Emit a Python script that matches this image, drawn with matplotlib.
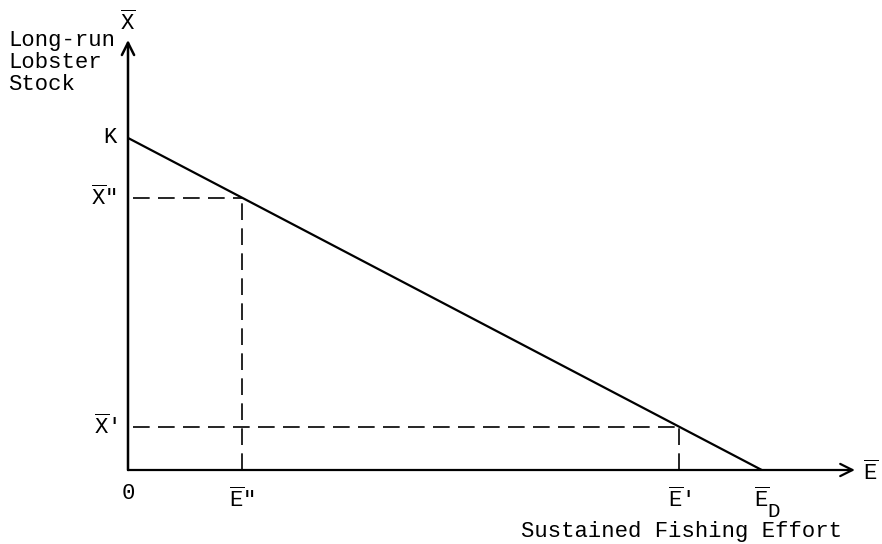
import matplotlib.pyplot as plt

# diagram values (arbitrary units)
K = 100.0          # stock with no effort
E_D = 100.0        # effort that drives stock to zero
E_pts = [18.0, 87.0]                     # E'', E'
X_pts = [K * (1 - e / E_D) for e in E_pts]   # X'', X' on the line
E_names = [r'$\overline{\mathrm{E}}$"', r"$\overline{\mathrm{E}}$'"]
X_names = [r'$\overline{\mathrm{X}}$"', r"$\overline{\mathrm{X}}$'"]

plt.rcParams['font.family'] = ['Liberation Mono', 'DejaVu Sans']
plt.rcParams['mathtext.fontset'] = 'custom'
plt.rcParams['mathtext.rm'] = 'Liberation Mono'
plt.rcParams['mathtext.it'] = 'Liberation Mono'

fig = plt.figure(figsize=(8.82, 5.44), dpi=100)
W, H = 882, 544
# axes from origin pixel (128,470) to (860,35)
ax = fig.add_axes([128 / W, (H - 470) / H, (860 - 128) / W, (470 - 35) / H])
ax.set_xlim(0, 115.5)
ax.set_ylim(0, 131)
ax.axis('off')

fs = 16
# axes with open arrow heads
ax.annotate('', xy=(114.7, 0), xytext=(0, 0),
            arrowprops=dict(arrowstyle='->', lw=1.6, color='black',
                            mutation_scale=22, shrinkA=0, shrinkB=0))
ax.annotate('', xy=(0, 129.5), xytext=(0, 0),
            arrowprops=dict(arrowstyle='->', lw=1.8, color='black',
                            mutation_scale=22, shrinkA=0, shrinkB=0))

# long-run stock vs effort
ax.plot([0, E_D], [K, 0], color='black', lw=1.6, solid_capstyle='butt')

# dashed guides
for e, x in zip(E_pts, X_pts):
    ax.plot([0.8, e], [x, x], color='black', lw=1.2, dashes=(10, 5))
    ax.plot([e, e], [0, x], color='black', lw=1.2, dashes=(10, 5))

# labels
ax.text(-1.8, K, 'K', ha='right', va='center', fontsize=fs)
for x, name in zip(X_pts, X_names):
    ax.text(-1.8, x, name, ha='right', va='center', fontsize=fs)
for e, name in zip(E_pts, E_names):
    ax.text(e, -5.5, name, ha='center', va='top', fontsize=fs)
ax.text(E_D, -5.5, r'$\overline{\mathrm{E}}$', ha='center', va='top', fontsize=fs)
ax.annotate('D', xy=(E_D, -5.5), xytext=(4, -10), textcoords='offset points',
            ha='left', va='top', fontsize=fs - 1, annotation_clip=False)
ax.text(0, -4, '0', ha='center', va='top', fontsize=fs)
ax.text(116.0, -1, r'$\overline{\mathrm{E}}$', ha='left', va='center', fontsize=fs)
ax.text(0, 131, r'$\overline{\mathrm{X}}$', ha='center', va='bottom', fontsize=fs, clip_on=False)

fig.text(8 / W, 1 - 30 / H, 'Long-run\nLobster\nStock', ha='left', va='top',
         fontsize=fs, linespacing=1.05)
fig.text(842 / W, 1 - 531 / H, 'Sustained Fishing Effort', ha='right', va='center',
         fontsize=fs)

fig.savefig('out.png', dpi=100, facecolor='white')
